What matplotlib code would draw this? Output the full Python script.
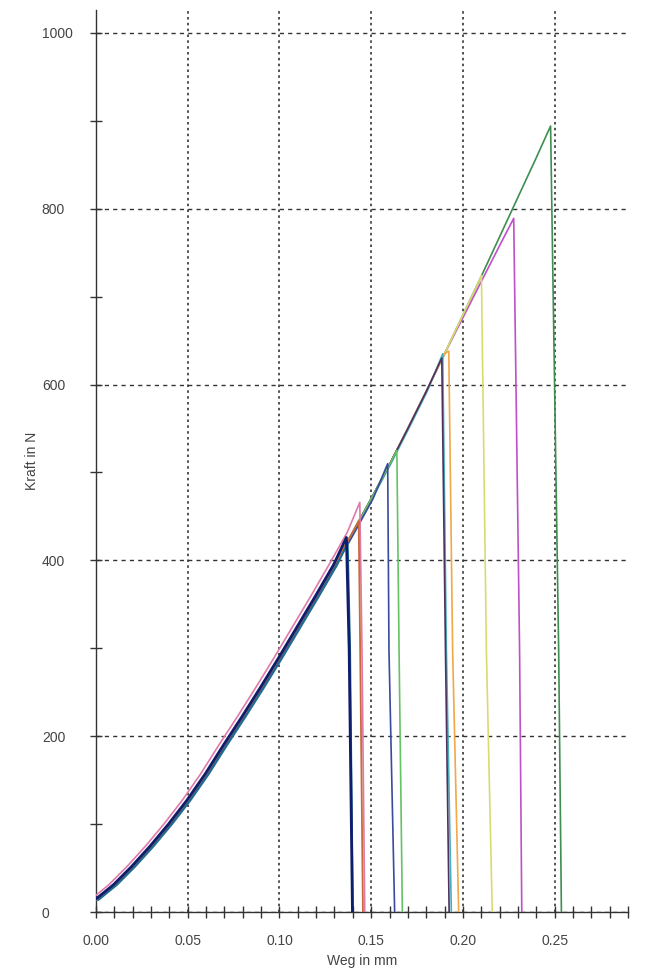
import matplotlib
matplotlib.use("Agg")
import matplotlib.pyplot as plt
from matplotlib.ticker import MultipleLocator, FormatStrFormatter

plt.rcParams['font.family'] = ['Liberation Sans', 'DejaVu Sans']

# common loading branch (Weg in mm / Kraft in N)
weg_base = [0.00, 0.01, 0.02, 0.03, 0.04, 0.05, 0.06, 0.07, 0.08, 0.09,
            0.10, 0.11, 0.12, 0.13, 0.14, 0.15, 0.16, 0.17, 0.18, 0.19,
            0.20, 0.21, 0.22, 0.23, 0.24, 0.25]
kraft_base = [14, 31, 52, 75, 100, 127, 157, 190, 222, 255,
              289, 324, 359, 395, 432, 470, 509, 550, 592, 635,
              679, 723, 768, 813, 858, 903]

# upper part of the magenta specimen, slightly softer than the rest
magenta_weg = [0.20, 0.21, 0.22]
magenta_kraft = [676, 717, 758]

# one entry per specimen
farben = ['#3e8e50', '#c050c8', '#d8dc70', '#f0a848', '#48b0b8', '#503060',
          '#66c266', '#3a4aa0', '#e07aa8', '#c86a3a', '#1f6f8f', '#101c6c']
versatz = [0.0, 0.0, 0.0, 0.0, 0.0005, 0.0, 0.0, 0.001, -0.003, 0.0, 0.0015, -0.0005]
peak_weg = [0.2478, 0.2277, 0.2101, 0.1923, 0.1890, 0.1885, 0.1640, 0.1590, 0.1438, 0.1432, 0.1372, 0.1365]
peak_kraft = [894, 789, 724, 638, 635, 630, 525, 510, 466, 445, 420, 426]
mitte_weg = [0.2522, 0.2309, 0.2128, 0.1944, 0.1910, 0.1905, 0.1652, 0.1597, 0.1450, 0.1440, 0.1385, 0.1380]
mitte_kraft = [298, 298, 298, 298, 298, 298, 298, 298, 298, 298, 298, 298]
bruch_weg = [0.2537, 0.2321, 0.2160, 0.1977, 0.1937, 0.1925, 0.1670, 0.1628, 0.1465, 0.1455, 0.1400, 0.1398]
linienbreite = [1.2, 1.2, 1.2, 1.2, 1.2, 1.2, 1.2, 1.2, 1.2, 1.3, 1.4, 2.0]

fig = plt.figure(figsize=(6.5, 9.69), dpi=100)
ax = fig.add_axes([96 / 650, 57 / 969, 532 / 650, 902 / 969])

for i in range(len(farben)):
    grenze = peak_weg[i]
    if farben[i] == '#c050c8':
        grenze = 0.195
    xs = [w + versatz[i] for w in weg_base if w + versatz[i] < grenze]
    ys = [k for w, k in zip(weg_base, kraft_base) if w + versatz[i] < grenze]
    if farben[i] == '#c050c8':
        xs += magenta_weg
        ys += magenta_kraft
    xs += [peak_weg[i], mitte_weg[i], bruch_weg[i]]
    ys += [peak_kraft[i], mitte_kraft[i], 0]
    ax.plot(xs, ys, color=farben[i], lw=linienbreite[i], zorder=3)

ax.set_xlim(0, 0.29)
ax.set_ylim(0, 1026)

ax.xaxis.set_major_locator(MultipleLocator(0.05))
ax.xaxis.set_minor_locator(MultipleLocator(0.01))
ax.xaxis.set_major_formatter(FormatStrFormatter('%.2f'))
ax.yaxis.set_major_locator(MultipleLocator(200))
ax.yaxis.set_minor_locator(MultipleLocator(100))

for s in ['top', 'right']:
    ax.spines[s].set_visible(False)
for s in ['left', 'bottom']:
    ax.spines[s].set_color('#333333')
    ax.spines[s].set_linewidth(1.0)

ax.tick_params(which='both', direction='inout', length=8, width=1.0,
               color='#333333', labelsize=10, labelcolor='#444444')
ax.tick_params(axis='x', pad=12)
ax.tick_params(axis='y', pad=35)
for lbl in ax.get_yticklabels():
    lbl.set_horizontalalignment('left')

ax.grid(axis='y', which='major', color='#333333', linestyle=(0, (3, 3)), lw=1.0)
ax.grid(axis='x', which='major', color='#333333', linestyle=(0, (1.5, 2)), lw=1.2)

ax.set_xlabel('Weg in mm', fontsize=10, color='#444444', labelpad=4)
ax.set_ylabel('Kraft in N', fontsize=10, color='#444444', labelpad=2)

fig.savefig('out.png', dpi=100)
